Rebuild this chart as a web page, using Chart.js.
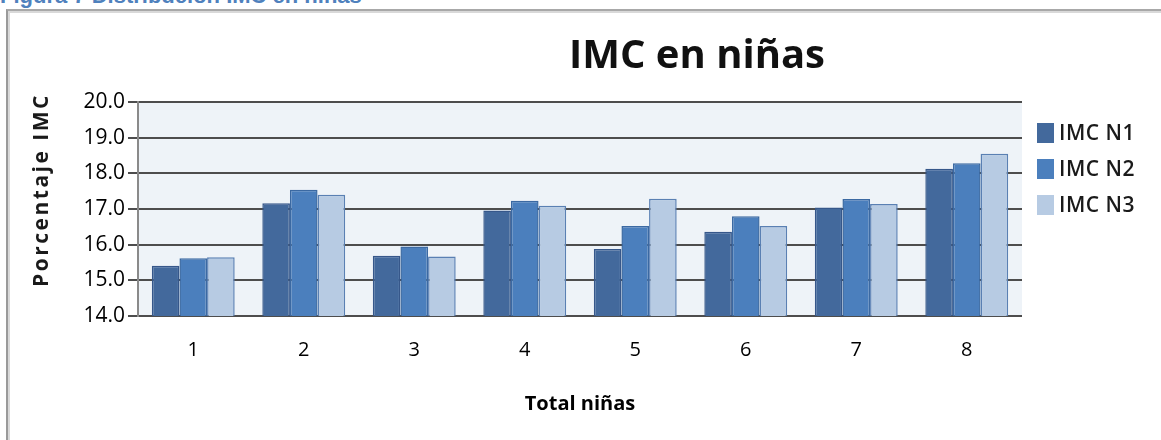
<!DOCTYPE html>
<html>
<head>
<meta charset="utf-8">
<script src="https://cdn.jsdelivr.net/npm/chart.js@4.4.0/dist/chart.umd.min.js"></script>
<style>
  html, body { margin: 0; padding: 0; background: #fff; }
  #wrap { position: relative; width: 1161px; height: 440px; overflow: hidden; }
  #caption {
    position: absolute; left: 0; top: -15px;
    font: bold 22px "Liberation Sans", Arial, sans-serif; line-height: 22px;
    color: #4f81bd; white-space: nowrap;
  }
  #frame {
    position: absolute; left: 6px; top: 9px; width: 1200px; height: 500px;
    border-left: 2px solid #9a9a9a; border-top: 2px solid #a8a8a8;
    box-shadow: inset 2px 2px 0 #d9d9d9;
  }
  #chart { position: absolute; left: 0; top: 0; }
</style>
</head>
<body>
<div id="wrap">
  <div id="caption">Figura 7 Distribución IMC en niñas</div>
  <div id="frame"></div>
  <canvas id="chart" width="1161" height="440"></canvas>
</div>
<script>
// Values.
const categories = ['1', '2', '3', '4', '5', '6', '7', '8'];
const seriesNames = ['IMC N1', 'IMC N2', 'IMC N3'];
const imcN1 = [15.41, 17.16, 15.69, 16.96, 15.88, 16.36, 17.04, 18.13];
const imcN2 = [15.62, 17.54, 15.95, 17.23, 16.52, 16.80, 17.28, 18.28];
const imcN3 = [15.65, 17.40, 15.67, 17.09, 17.29, 16.52, 17.14, 18.55];
const yMin = 14;
const yMax = 20;

const chartTitle = 'IMC en niñas';
const yTitle = 'Porcentaje IMC';
const xTitle = 'Total niñas';

const FONT = '"Open Sans", "DejaVu Sans", sans-serif';

// Plot background + main title + y title + legend, drawn by hand.
const decor = {
    id: 'decor',
    beforeDraw(chart) {
        const { ctx, chartArea } = chart;
        ctx.save();
        ctx.fillStyle = '#eef3f8';
        ctx.fillRect(chartArea.left, chartArea.top, chartArea.right - chartArea.left, chartArea.bottom - chartArea.top);
        ctx.restore();
    },
    afterDraw(chart) {
        const { ctx } = chart;
        ctx.save();

        // Title
        ctx.fillStyle = '#111';
        ctx.font = 'bold 40px ' + FONT;
        ctx.textAlign = 'center';
        ctx.textBaseline = 'alphabetic';
        ctx.fillText(chartTitle, 697, 68);

        // Y axis title (spaced out like the original)
        ctx.save();
        ctx.translate(42, 190);
        ctx.rotate(-Math.PI / 2);
        ctx.font = 'bold 21px ' + FONT;
        ctx.letterSpacing = '2.5px';
        ctx.textBaseline = 'middle';
        ctx.fillStyle = '#1a1a1a';
        ctx.fillText(yTitle, 0, 0);
        ctx.restore();

        // Legend
        ctx.textAlign = 'left';
        ctx.textBaseline = 'middle';
        ctx.font = '600 21px ' + FONT;
        ctx.letterSpacing = '0.5px';
        chart.data.datasets.forEach((ds, i) => {
            const y = 133 + i * 36;
            ctx.fillStyle = ds.backgroundColor;
            ctx.fillRect(1037, y - 10, 17, 20);
            ctx.fillStyle = '#1a1a1a';
            ctx.fillText(ds.label, 1059, y + 1);
        });
        ctx.restore();
    }
};

new Chart(document.getElementById('chart').getContext('2d'), {
    type: 'bar',
    data: {
        labels: categories,
        datasets: [
            {
                label: seriesNames[0],
                data: imcN1,
                backgroundColor: '#43699c',
                borderColor: '#36578a',
                borderWidth: 1.5
            },
            {
                label: seriesNames[1],
                data: imcN2,
                backgroundColor: '#4b7fbd',
                borderColor: '#3b69a2',
                borderWidth: 1.5
            },
            {
                label: seriesNames[2],
                data: imcN3,
                backgroundColor: '#b7cbe3',
                borderColor: '#5a80b3',
                borderWidth: 1.5
            }
        ]
    },
    options: {
        responsive: false,
        animation: false,
        devicePixelRatio: 1,
        layout: {
            padding: { top: 102, right: 139, bottom: 0, left: 0 }
        },
        datasets: {
            bar: {
                categoryPercentage: 0.75,
                barPercentage: 1
            }
        },
        plugins: {
            legend: { display: false },
            title: { display: false },
            tooltip: { enabled: false }
        },
        scales: {
            x: {
                grid: { display: false, drawTicks: false },
                border: { display: false },
                ticks: {
                    color: '#000',
                    padding: 22,
                    font: { family: FONT, size: 20, weight: '500' }
                },
                title: {
                    display: true,
                    text: xTitle,
                    color: '#000',
                    padding: { top: 0, bottom: 24 },
                    font: { family: FONT, size: 20, weight: 'bold' }
                },
                afterFit(scale) {
                    scale.height = 124;
                }
            },
            y: {
                min: yMin,
                max: yMax,
                grid: {
                    color: '#4d4d4d',
                    lineWidth: 2,
                    tickLength: 10,
                    drawTicks: true
                },
                border: { display: true, color: '#8a8a8a', width: 2 },
                ticks: {
                    stepSize: 1,
                    color: '#000',
                    padding: 3,
                    font: { family: FONT, size: 21, weight: '500' },
                    callback: (v) => Number(v).toFixed(1)
                },
                afterFit(scale) {
                    scale.width = 138;
                }
            }
        }
    },
    plugins: [decor]
});
</script>
</body>
</html>
